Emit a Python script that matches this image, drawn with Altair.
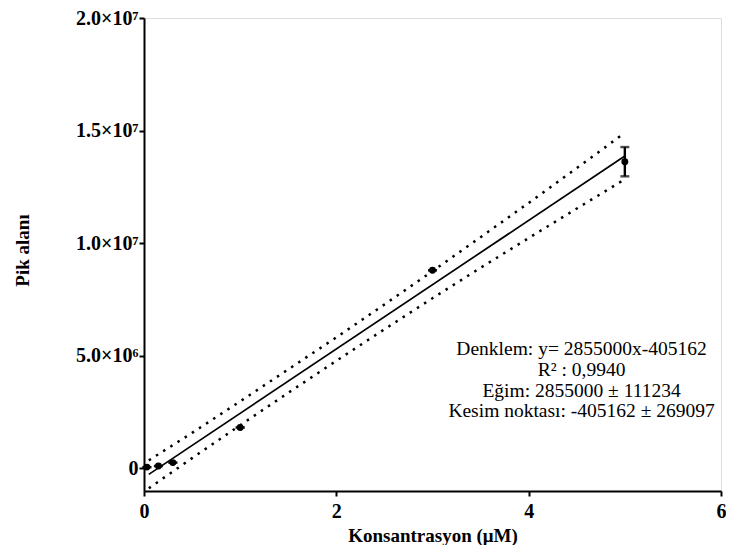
import altair as alt
import pandas as pd

# Measured points
conc = [0.03, 0.15, 0.3, 1.0, 3.0, 5.0]
area = [60000, 110000, 260000, 1820000, 8800000, 13620000]
sd = [0, 0, 0, 0, 0, 650000]

# Fitted line endpoints (y = 2855000x - 405162)
fit_x = [0.05, 5.0]
fit_y = [-262412, 13869838]

# 95% confidence band
band_x = [0.05, 0.5, 1.0, 1.5, 2.0, 2.5, 3.0, 3.5, 4.0, 4.5, 5.0]
band_upper = [360000, 1580000, 2980000, 4400000, 5820000, 7280000, 8760000,
              10270000, 11790000, 13340000, 14900000]
band_lower = [-880000, 460000, 1920000, 3360000, 4780000, 6180000, 7560000,
              8910000, 10230000, 11540000, 12840000]

y_ticks = [0, 5000000, 10000000, 15000000, 20000000]
y_tick_labels = ["0", "5.0×10⁶", "1.0×10⁷", "1.5×10⁷", "2.0×10⁷"]
x_ticks = [0, 2, 4, 6]

note_lines = ["Denklem: y= 2855000x-405162", "R² : 0,9940",
              "Eğim: 2855000 ± 111234", "Kesim noktası: -405162 ± 269097"]
note_x = 4.55
note_y = 5700000

pts = pd.DataFrame({"x": conc, "y": area, "lo": [a - s for a, s in zip(area, sd)],
                    "hi": [a + s for a, s in zip(area, sd)]})
fit = pd.DataFrame({"x": fit_x, "y": fit_y})
band = pd.DataFrame({"x": band_x * 2, "y": band_upper + band_lower,
                     "side": ["upper"] * len(band_x) + ["lower"] * len(band_x)})

FONT = "Liberation Serif"
label_expr = " : ".join(
    f"datum.value == {v} ? '{l}'" for v, l in zip(y_ticks, y_tick_labels)) + " : ''"

xs = alt.Scale(domain=[0, 6], nice=False, zero=False)
ys = alt.Scale(domain=[-1000000, 20000000], nice=False, zero=False)

x_axis = alt.Axis(values=x_ticks, format="d", title="Konsantrasyon (μM)",
                  grid=False, labelFlush=False,
                  labelFont=FONT, labelFontWeight="bold", labelFontSize=20,
                  labelColor="black", labelPadding=5, tickSize=5, tickWidth=2,
                  tickColor="black", domainColor="black", domainWidth=2,
                  titleFont=FONT, titleFontWeight="bold", titleFontSize=19,
                  titleColor="black", titleY=44, titleBaseline="middle")
y_axis = alt.Axis(values=y_ticks, labelExpr=label_expr, title="Pik alanı",
                  grid=False, labelFont=FONT, labelFontWeight="bold",
                  labelFontSize=20, labelColor="black", labelPadding=1,
                  tickSize=5, tickWidth=2, tickColor="black",
                  domainColor="black", domainWidth=2, titleFont=FONT,
                  titleFontWeight="bold", titleFontSize=19, titleColor="black",
                  titleX=-122, titleY=232, titleBaseline="middle")

base_x = alt.X("x:Q", scale=xs, axis=x_axis)
base_y = alt.Y("y:Q", scale=ys, axis=y_axis)

band_layer = alt.Chart(band).mark_line(color="black", strokeWidth=2.5,
                                       strokeDash=[2.5, 6]).encode(
    x=base_x, y=base_y, detail="side:N")

fit_layer = alt.Chart(fit).mark_line(color="black", strokeWidth=1.7).encode(
    x="x:Q", y="y:Q")

err_rule = alt.Chart(pts).mark_rule(color="black", strokeWidth=2.4).encode(
    x="x:Q", y="lo:Q", y2="hi:Q")
err_lo = alt.Chart(pts).mark_tick(color="black", thickness=2.4, size=9,
                                  orient="horizontal").encode(x="x:Q", y="lo:Q")
err_hi = alt.Chart(pts).mark_tick(color="black", thickness=2.4, size=9,
                                  orient="horizontal").encode(x="x:Q", y="hi:Q")

point_layer = alt.Chart(pts).mark_circle(color="black", opacity=1, size=48).encode(
    x="x:Q", y="y:Q")

note = alt.Chart(pd.DataFrame({"x": [note_x], "y": [note_y]})).mark_text(
    text=note_lines, font=FONT, fontSize=19.5, color="black", align="center",
    baseline="top", lineHeight=20.8).encode(x="x:Q", y="y:Q")

chart = alt.layer(band_layer, fit_layer, err_rule, err_lo, err_hi, point_layer,
                  note).properties(
    width=577, height=473,
    autosize=alt.AutoSizeParams(type="none"),
    padding={"left": 136, "top": 10, "right": 5, "bottom": 54},
).configure_view(stroke=None).configure(background="white")

chart.save("out.html", embed_options={"renderer": "svg", "actions": False})
